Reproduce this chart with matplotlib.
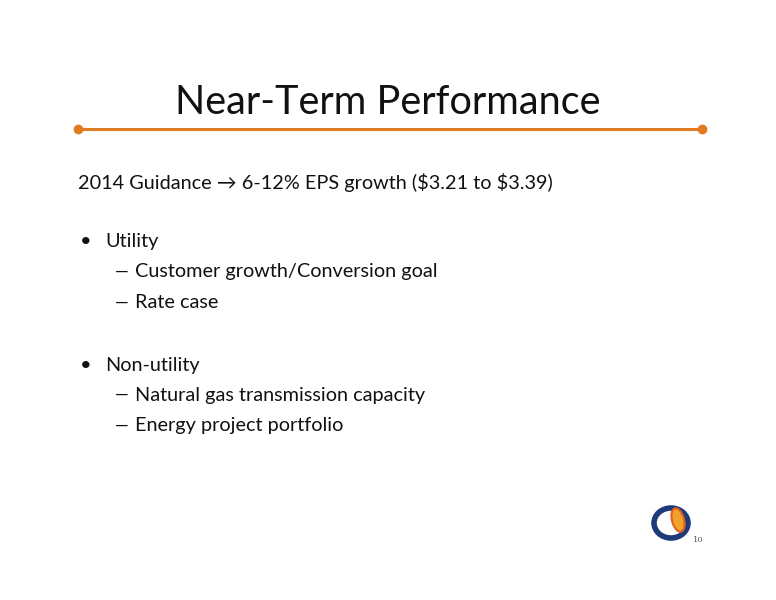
import matplotlib
matplotlib.use("Agg")
import matplotlib.pyplot as plt
from matplotlib.patches import Ellipse

W, H = 776, 600
FONT = ["Lato", "DejaVu Sans"]
ORANGE, INK = "#e07b20", "#111111"

TITLE = "Near-Term Performance"
HEADLINE = "2014 Guidance \u2192 6-12% EPS growth (\\$3.21 to \\$3.39)"
BULLETS = ["Utility", "Non-utility"]
SUBITEMS = [["Customer growth/Conversion goal", "Rate case"],
            ["Natural gas transmission capacity", "Energy project portfolio"]]
PAGE = "10"

fig = plt.figure(figsize=(W / 100, H / 100), dpi=100)
ax = fig.add_axes([0, 0, 1, 1])
ax.set_xlim(0, W); ax.set_ylim(H, 0); ax.axis("off")

ax.text(388, 103, TITLE, ha="center", va="center", fontsize=28.5, family=FONT, color=INK)
ax.plot([78, 702], [129, 129], color=ORANGE, lw=2.2)
ax.plot([78, 702], [129, 129], "o", color=ORANGE, ms=6)

ax.text(78, 182, HEADLINE, va="center", fontsize=14.3, family=FONT, color=INK)

y = 242
for b, subs in zip(BULLETS, SUBITEMS):
    ax.text(80, y, "\u2022", va="center", fontsize=14.3, family=FONT, color=INK)
    ax.text(105, y, b, va="center", fontsize=14.3, family=FONT, color=INK)
    for i, s in enumerate(subs):
        yy = y + 30 + i * 31
        ax.text(115, yy, "\u2014", va="center", fontsize=12.5, family=FONT, color=INK)
        ax.text(135, yy, s, va="center", fontsize=14.3, family=FONT, color=INK)
    y += 123

# logo
ax.add_patch(Ellipse((671, 523), 34, 30, fill=False, ec="#1f3a78", lw=4))
ax.add_patch(Ellipse((678, 520), 12, 24, angle=-15, fc="#f2a22a", ec="#e0601c", lw=1.5))
ax.text(693, 540, PAGE, ha="left", va="center", fontsize=6, family="DejaVu Serif", color="#555555")

fig.savefig("out.png", dpi=100)
